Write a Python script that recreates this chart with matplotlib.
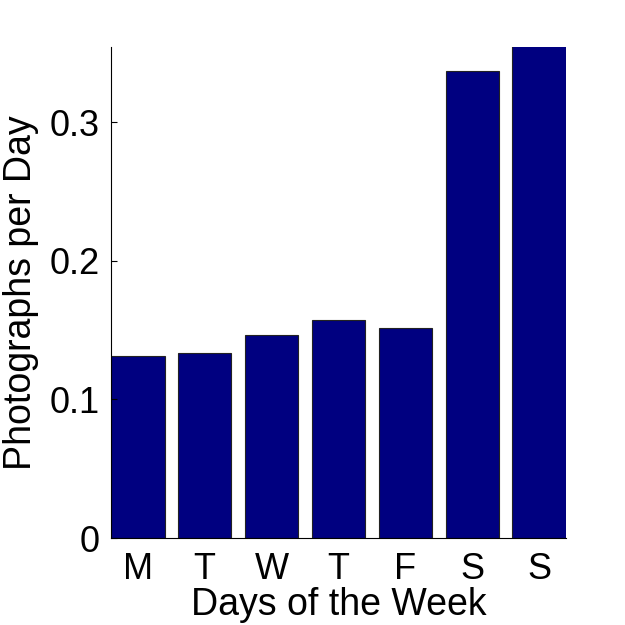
import matplotlib
matplotlib.use("Agg")
import matplotlib.pyplot as plt

days = ["M", "T", "W", "T", "F", "S", "S"]
photos_per_day = [0.1314, 0.1336, 0.1466, 0.1574, 0.1516, 0.3372, 0.3560]

plt.rcParams['font.family'] = ['Liberation Sans', 'DejaVu Sans']

fig = plt.figure(figsize=(6.25, 6.25), dpi=100)
ax = fig.add_axes([0.1776, 0.1392, 0.728, 0.7856])

x = range(len(days))
ax.bar(x, photos_per_day, width=0.8, color='#000080', edgecolor='#222222', linewidth=0.8)

ax.set_xlim(-0.4, len(days) - 0.6)
ax.set_ylim(0, 0.3545)
ax.set_xticks(list(x))
ax.set_xticklabels(days)
ax.set_yticks([0, 0.1, 0.2, 0.3])
ax.set_yticklabels(["0", "0.1", "0.2", "0.3"])

ax.spines['top'].set_visible(False)
ax.spines['right'].set_visible(False)
ax.tick_params(axis='y', direction='in', length=4, labelsize=26, pad=8)
ax.tick_params(axis='x', length=0, labelsize=26, pad=10)

ax.set_xlabel("Days of the Week", fontsize=27, labelpad=0)
ax.set_ylabel("Photographs per Day", fontsize=27, labelpad=8)

fig.savefig("out.png", dpi=100)
